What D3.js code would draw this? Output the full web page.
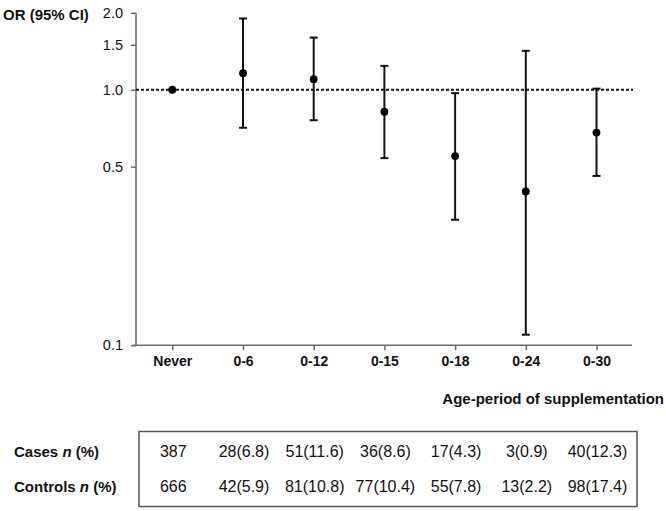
<!DOCTYPE html>
<html><head><meta charset="utf-8">
<script src="https://cdn.jsdelivr.net/npm/d3@7/dist/d3.min.js"></script>
<style>body{margin:0;background:#fff;} svg{display:block;font-family:"Liberation Sans",Arial,sans-serif;}</style>
</head><body>
<svg id="c" width="666" height="511"></svg>
<script>
const categories = ["Never","0-6","0-12","0-15","0-18","0-24","0-30"];
const orValues   = [1.00, 1.16, 1.10, 0.82, 0.55, 0.40, 0.68];
const ciLower    = [1.00, 0.71, 0.76, 0.54, 0.31, 0.11, 0.46];
const ciUpper    = [1.00, 1.90, 1.60, 1.24, 0.97, 1.42, 1.01];
const yTicks     = [0.1, 0.5, 1.0, 1.5, 2.0];
const casesRow    = ["387","28(6.8)","51(11.6)","36(8.6)","17(4.3)","3(0.9)","40(12.3)"];
const controlsRow = ["666","42(5.9)","81(10.8)","77(10.4)","55(7.8)","13(2.2)","98(17.4)"];

const svg = d3.select("#c");
const axisColor = "#6b6b6b";
const x = d3.scalePoint().domain(categories).range([172.3, 596.5]);
const y = d3.scaleLog().domain([0.1, 2]).range([345.3, 12.8]);
const xLeft = 133, xRight = 632, yAxisX = 136;

// y axis
const ya = svg.append("g").attr("transform", `translate(${yAxisX},0)`)
  .call(d3.axisLeft(y).tickValues(yTicks).tickFormat(d3.format(".1f")).tickSize(5).tickSizeOuter(0));
ya.select(".domain").attr("stroke", axisColor).attr("stroke-width", 1.5).attr("d", `M0,${y(2)}V${y(0.1)}`);
ya.selectAll(".tick line").attr("stroke", axisColor).attr("stroke-width", 1.5);
ya.selectAll(".tick text").attr("font-size", 14.5).attr("fill", "#111").attr("x", -13)
  .attr("font-family", "Liberation Sans, Arial, sans-serif");

// x axis
const xa = svg.append("g").attr("transform", `translate(0,${y(0.1)})`)
  .call(d3.axisBottom(x).tickSize(5).tickSizeOuter(0));
xa.select(".domain").attr("stroke", axisColor).attr("stroke-width", 1.5).attr("d", `M${xLeft},0H${xRight}`);
xa.selectAll(".tick line").attr("stroke", axisColor).attr("stroke-width", 1.5);
xa.selectAll(".tick text").attr("font-size", 14).attr("font-weight", "bold").attr("fill", "#111")
  .attr("dy", null).attr("y", 21).attr("font-family", "Liberation Sans, Arial, sans-serif");

// reference line at OR = 1
svg.append("line").attr("x1", yAxisX).attr("x2", 633).attr("y1", y(1)).attr("y2", y(1))
  .attr("stroke", "#111").attr("stroke-width", 2).attr("stroke-dasharray", "3,2");

// error bars
const data = categories.map((c, i) => ({c, or: orValues[i], lo: ciLower[i], hi: ciUpper[i]}));
const eb = svg.append("g").selectAll("g").data(data.filter(d => d.hi > d.lo)).join("g");
eb.append("line").attr("x1", d => x(d.c)).attr("x2", d => x(d.c)).attr("y1", d => y(d.lo)).attr("y2", d => y(d.hi))
  .attr("stroke", "#111").attr("stroke-width", 2);
eb.append("line").attr("x1", d => x(d.c) - 4).attr("x2", d => x(d.c) + 4).attr("y1", d => y(d.hi)).attr("y2", d => y(d.hi))
  .attr("stroke", "#111").attr("stroke-width", 2);
eb.append("line").attr("x1", d => x(d.c) - 4).attr("x2", d => x(d.c) + 4).attr("y1", d => y(d.lo)).attr("y2", d => y(d.lo))
  .attr("stroke", "#111").attr("stroke-width", 2);
svg.append("g").selectAll("circle").data(data).join("circle")
  .attr("cx", d => x(d.c)).attr("cy", d => y(d.or)).attr("r", 3.9).attr("fill", "#000");

// titles
svg.append("text").attr("x", 3).attr("y", 20).attr("font-size", 15).attr("font-weight", "bold").attr("fill", "#111")
  .text("OR (95% CI)");
svg.append("text").attr("x", 664).attr("y", 404).attr("text-anchor", "end").attr("font-size", 15)
  .attr("font-weight", "bold").attr("fill", "#111").text("Age-period of supplementation");

// table
svg.append("rect").attr("x", 139).attr("y", 431.5).attr("width", 498).attr("height", 75)
  .attr("fill", "none").attr("stroke", "#555").attr("stroke-width", 1.5);
const rows = [{label: "Cases", vals: casesRow, yb: 457}, {label: "Controls", vals: controlsRow, yb: 492}];
rows.forEach(r => {
  const t = svg.append("text").attr("x", 14).attr("y", r.yb).attr("font-size", 15).attr("font-weight", "bold").attr("fill", "#111");
  t.append("tspan").text(r.label + " ");
  t.append("tspan").attr("font-style", "italic").text("n");
  t.append("tspan").text(" (%)");
  svg.append("g").selectAll("text").data(r.vals).join("text")
    .attr("x", (d, i) => x(categories[i]) + 1).attr("y", r.yb).attr("text-anchor", "middle")
    .attr("font-size", 16).attr("fill", "#111").text(d => d);
});
</script>
</body></html>
